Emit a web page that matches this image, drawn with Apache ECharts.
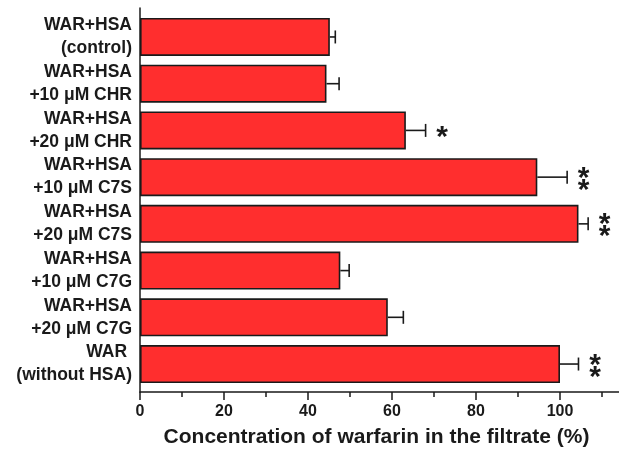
<!DOCTYPE html>
<html><head><meta charset="utf-8">
<script src="https://cdn.jsdelivr.net/npm/echarts@6/dist/echarts.min.js"></script>
<style>html,body{margin:0;padding:0;background:#fff}#c{width:619px;height:452px}</style>
</head><body><div id="c"></div>
<script>
const categories = ['WAR+HSA\n(control)', 'WAR+HSA\n+10 μM CHR', 'WAR+HSA\n+20 μM CHR', 'WAR+HSA\n+10 μM C7S', 'WAR+HSA\n+20 μM C7S', 'WAR+HSA\n+10 μM C7G', 'WAR+HSA\n+20 μM C7G', 'WAR \n(without HSA)'];
const values = [45.2, 44.4, 63.3, 94.6, 104.4, 47.7, 59.0, 100.0];
const errors = [1.3, 3.0, 4.7, 7.1, 2.3, 2.1, 3.7, 4.4];
const significance = ['', '', '*', '**', '**', '', '', '**'];
const xTickLabels = [0, 20, 40, 60, 80, 100];
const axisTitle = 'Concentration of warfarin in the filtrate (%)';

const INK = '#1a1a1a';
const FONT = '"Liberation Sans", Arial, sans-serif';
const STAR_SIZE = 30;

function renderErr(params, api) {
  const v = api.value(0), i = api.value(1), e = api.value(2);
  const s = api.coord([v, i]);
  const t = api.coord([v + e, i]);
  const cap = 6.5;
  const children = [
    {type: 'line', shape: {x1: s[0], y1: s[1], x2: t[0], y2: t[1]}, style: {stroke: INK, lineWidth: 1.6}},
    {type: 'line', shape: {x1: t[0], y1: t[1] - cap, x2: t[0], y2: t[1] + cap}, style: {stroke: INK, lineWidth: 1.6}}
  ];
  const sig = significance[params.dataIndex];
  const n = sig.length;
  for (let k = 0; k < n; k++) {
    const dy = (k - (n - 1) / 2) * 12;
    children.push({
      type: 'text', x: t[0] + 16.5, y: t[1] + dy + STAR_SIZE * 0.24,
      style: {text: '*', font: 'bold ' + STAR_SIZE + 'px ' + FONT, fill: INK, align: 'center', verticalAlign: 'middle'}
    });
  }
  return {type: 'group', children};
}

const chart = echarts.init(document.getElementById('c'), null, {renderer: 'canvas'});
chart.setOption({
  backgroundColor: '#fff',
  animation: false,
  title: {
    text: axisTitle, left: 376.5, top: 427, textAlign: 'center', padding: 0,
    textStyle: {fontFamily: FONT, fontSize: 21, fontWeight: 'bold', color: INK}
  },
  grid: [
    {left: 140, right: -25, top: 13.6, bottom: 64.6, containLabel: false, outerBoundsMode: 'none'},
    {left: 140, right: -25, top: 8, bottom: 60, containLabel: false, outerBoundsMode: 'none'}
  ],
  xAxis: [
    {gridIndex: 0, type: 'value', min: 0, max: 120, show: false},
    {
      gridIndex: 1, type: 'value', min: 0, max: 120, interval: 20,
      axisLine: {show: true, onZero: false, lineStyle: {color: INK, width: 1.5}},
      axisTick: {show: true, inside: false, length: 8, lineStyle: {color: INK, width: 1.5}},
      minorTick: {show: true, splitNumber: 2, length: 5, lineStyle: {color: INK, width: 1.5}},
      splitLine: {show: false},
      axisLabel: {
        show: true, margin: 12, color: INK, fontFamily: FONT, fontSize: 16, fontWeight: 'bold',
        formatter: v => xTickLabels.indexOf(v) >= 0 ? String(v) : ''
      }
    }
  ],
  yAxis: [
    {
      gridIndex: 0, type: 'category', inverse: true, data: categories,
      axisLine: {show: false}, axisTick: {show: false}, splitLine: {show: false},
      axisLabel: {
        interval: 0, showMinLabel: true, showMaxLabel: true, hideOverlap: false,
        color: INK, fontFamily: FONT, fontSize: 17.5, fontWeight: 'bold', lineHeight: 23,
        align: 'right', margin: 8, padding: [6, 0, 0, 0]
      }
    },
    {
      gridIndex: 1, type: 'value', min: 0, max: 1,
      axisLine: {show: true, onZero: false, lineStyle: {color: INK, width: 1.5}},
      axisTick: {show: false}, axisLabel: {show: false}, splitLine: {show: false}
    }
  ],
  series: [
    {
      type: 'bar', xAxisIndex: 0, yAxisIndex: 0, data: values, barWidth: 38,
      itemStyle: {color: '#FF2E2E', borderColor: INK, borderWidth: 1.6}
    },
    {
      type: 'custom', xAxisIndex: 0, yAxisIndex: 0, renderItem: renderErr,
      encode: {x: 0, y: 1},
      data: values.map((v, i) => [v, i, errors[i]]), z: 3
    }
  ]
});
</script></body></html>
